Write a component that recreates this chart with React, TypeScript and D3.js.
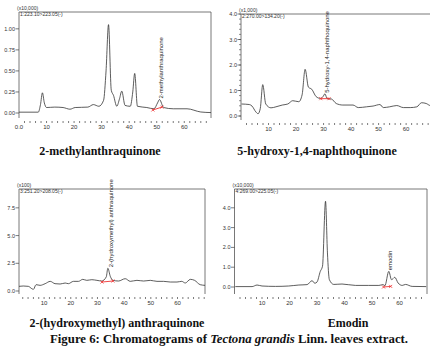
import * as d3 from 'd3'

type Pt = [number, number]

// retention time (min), signal in the panel's own units
const traceMethyl: Pt[] = [
  [0, 0.01], [7, 0.01], [7.8, 0.1], [8.5, 0.24], [9.2, 0.12], [10, 0.065], [13, 0.07], [16, 0.065],
  [18.5, 0.045], [20.4, 0.065], [25, 0.07], [27, 0.1], [29, 0.08], [30.7, 0.15], [31.6, 0.5], [32.5, 1.05],
  [33.5, 0.27], [34.3, 0.21], [35.5, 0.08], [36.5, 0.17], [37.3, 0.26], [38.5, 0.09], [40.4, 0.08],
  [41.3, 0.25], [42, 0.47], [43, 0.08], [46.4, 0.065], [49, 0.05], [50.3, 0.12], [51, 0.16], [52.5, 0.065],
  [56, 0.05], [61, 0.05], [66, 0.012], [69.7, 0.005]
]
const traceHydroxy: Pt[] = [
  [0.2, 0.47], [3, 0.45], [4, 0.39], [5.4, 0.16], [6.2, 0.09], [7, 0.29], [7.9, 1.23], [9, 0.47],
  [10.9, 0.32], [12.7, 0.36], [15, 0.43], [17, 0.47], [18.8, 0.6], [21, 0.56], [22.2, 0.83], [23.3, 1.83],
  [24.5, 1.13], [25.7, 1.05], [27.3, 0.76], [28.8, 0.69], [29.8, 0.76], [30.5, 0.87], [31.3, 0.68],
  [32.8, 0.67], [34.6, 0.49], [37, 0.43], [40.7, 0.43], [42.6, 0.33], [45.6, 0.36], [48, 0.39], [50.5, 0.45],
  [51.7, 0.33], [54, 0.36], [56.6, 0.41], [59, 0.33], [61.5, 0.33], [63.9, 0.36], [65.6, 0.52], [67.3, 0.49],
  [68.8, 0.41], [69.4, 0.42]
]
const traceHydroxymethyl: Pt[] = [
  [0.6, 0.42], [2.2, 0.45], [4.1, 0.42], [5.4, 0.21], [6, 0.15], [7, 0.57], [8.5, 0.51], [10.4, 0.66],
  [12.3, 0.87], [14.1, 0.66], [16, 0.63], [17.9, 0.72], [19.1, 0.66], [21, 0.87], [22.9, 0.87], [24.5, 1.05],
  [26, 0.96], [27.9, 1.02], [29.8, 0.96], [31.6, 0.9], [33.3, 1.27], [33.9, 2.05], [34.8, 1.33], [35.8, 0.96],
  [37.9, 0.9], [40.4, 1.11], [42.3, 0.87], [44.8, 0.96], [47.3, 0.9], [49.8, 0.96], [52.3, 0.87], [54.8, 0.87],
  [57.3, 0.81], [59.8, 0.81], [61.6, 0.87], [62.9, 0.72], [64.8, 1.05], [66.4, 0.96], [68.5, 0.57], [70.3, 0.51]
]
const traceEmodin: Pt[] = [
  [0.3, 0.02], [6.4, 0.02], [8.2, 0.1], [10, 0.05], [14.9, 0.03], [19.7, 0.05], [23.4, 0.1], [26.4, 0.12],
  [28.2, 0.32], [29.2, 0.19], [30, 0.25], [31.2, 0.79], [32, 1.05], [33.1, 4.33], [33.8, 1.72], [34.5, 0.37],
  [36.1, 0.13], [39.1, 0.15], [44, 0.08], [48.8, 0.08], [52.5, 0.08], [54, 0.12], [54.7, 0.07], [56.1, 0.79],
  [57.1, 0.37], [58.3, 0.49], [59.5, 0.2], [61, 0.08], [62.2, 0.13], [64.6, 0.03], [69.7, 0.02]
]

// integration baselines (start, end)
const baseMethyl: Pt[] = [[48.6, 0.036], [51.9, 0.07]]
const baseHydroxy: Pt[] = [[29.0, 0.68], [32.0, 0.68]]
const baseHydroxymethyl: Pt[] = [[31.7, 0.81], [35.8, 0.9]]
const baseEmodin: Pt[] = [[54.2, 0.0], [56.8, 0.03]]

// peak labels: [time, height]
const peakMethyl: Pt = [51, 0.16]
const peakHydroxy: Pt = [30.7, 0.87]
const peakHydroxymethyl: Pt = [34.6, 2.05]
const peakEmodin: Pt = [56.1, 0.79]

const yTicksMethyl = [0, 0.25, 0.5, 0.75, 1.0]
const yTicksHydroxy = [0, 1, 2, 3, 4]
const yTicksHydroxymethyl = [0, 2.5, 5, 7.5]
const yTicksEmodin = [0, 1, 2, 3, 4]
const xLabels = [10, 20, 30, 40, 50, 60]

const compounds = ['2-methylanthraquinone', '5-hydroxy-1,4-naphthoquinone', '2-(hydroxymethyl) anthraquinone', 'Emodin']
const peakNames = ['2-methylanthraquinone', '5-hydroxy-1,4-naphthoquinone', '2-(hydroxymethyl) anthraquinone', 'emodin']
const multipliers = ['(x10,000)', '(x1,000)', '(x100)', '(x10,000)']
const channels = ['1:223.10>223.05(-)', '2:270.00>134.20(-)', '3:251.20>208.05(-)', '4:269.00>225.05(-)']

interface Panel {
  trace: Pt[]; base: Pt[]; peak: Pt; peakName: string
  yTicks: number[]; yFmt: (v: number) => string; yMinor?: number
  xDomain: [number, number]; yDomain: [number, number]
  left: number; right: number; top: number; zeroY: number; axisY: number
  mult: string; channel: string; zeroLabel?: boolean
  caption: string; capX: number; capY: number
}

const panels: Panel[] = [
  {
    trace: traceMethyl, base: baseMethyl, peak: peakMethyl, peakName: peakNames[0],
    yTicks: yTicksMethyl, yFmt: d3.format('.2f'),
    xDomain: [0, 69.7], yDomain: [0, 1.2],
    left: 19, right: 211, top: 12, zeroY: 113, axisY: 118,
    mult: multipliers[0], channel: channels[0], zeroLabel: true,
    caption: compounds[0], capX: 100, capY: 155
  },
  {
    trace: traceHydroxy, base: baseHydroxy, peak: peakHydroxy, peakName: peakNames[1],
    yTicks: yTicksHydroxy, yFmt: d3.format('.1f'), yMinor: 0.2,
    xDomain: [0, 69.4], yDomain: [0, 4.0],
    left: 241, right: 432, top: 14, zeroY: 116, axisY: 120,
    mult: multipliers[1], channel: channels[1],
    caption: compounds[1], capX: 317, capY: 155
  },
  {
    trace: traceHydroxymethyl, base: baseHydroxymethyl, peak: peakHydroxymethyl, peakName: peakNames[2],
    yTicks: yTicksHydroxymethyl, yFmt: d3.format('.1f'),
    xDomain: [0.6, 70.3], yDomain: [0, 9.2],
    left: 19, right: 205, top: 189, zeroY: 291, axisY: 294,
    mult: multipliers[2], channel: channels[2],
    caption: compounds[2], capX: 117, capY: 327
  },
  {
    trace: traceEmodin, base: baseEmodin, peak: peakEmodin, peakName: peakNames[3],
    yTicks: yTicksEmodin, yFmt: d3.format('.1f'),
    xDomain: [0, 70], yDomain: [0, 4.95],
    left: 234.5, right: 427, top: 189, zeroY: 287, axisY: 294,
    mult: multipliers[3], channel: channels[3],
    caption: compounds[3], capX: 348, capY: 327
  }
]

const axisColor = '#555'
const sans = 'Liberation Sans, Arial, sans-serif'
const serif = 'Liberation Serif, Times New Roman, serif'

function Chromatogram({ p }: { p: Panel }) {
  const x = d3.scaleLinear().domain(p.xDomain).range([p.left, p.right])
  const y = d3.scaleLinear().domain(p.yDomain).range([p.zeroY, p.top])
  const line = d3.line<Pt>().x(d => x(d[0])).y(d => y(d[1])).curve(d3.curveMonotoneX)
  const minorX = d3.range(2, p.xDomain[1], 2)
  const minorY = p.yMinor ? d3.range(0, p.yDomain[1] + 1e-6, p.yMinor) : []
  const px = x(p.peak[0]) + 1.5
  const py = y(p.peak[1]) - 1

  return (
    <g>
      {/* frame */}
      <path d={`M${p.left},${p.axisY}V${p.top}H${p.right}V${p.axisY}`} fill="none" stroke={axisColor} strokeWidth={0.8} />
      {/* x ticks */}
      {minorX.map(t => (
        <line key={'x' + t} x1={x(t)} x2={x(t)} y1={p.axisY + 3} y2={p.axisY + 5} stroke="#444" strokeWidth={0.7} />
      ))}
      {(p.zeroLabel ? [0, ...xLabels] : xLabels).map(t => (
        <text key={'xl' + t} x={x(t)} y={p.axisY + 11} fontSize={6} fontFamily={sans} fill="#333" textAnchor="middle">
          {t === 0 ? '0.0' : t}
        </text>
      ))}
      {/* y ticks */}
      {minorY.map(v => (
        <line key={'ym' + v} x1={p.left - 2} x2={p.left} y1={y(v)} y2={y(v)} stroke="#444" strokeWidth={0.6} />
      ))}
      {p.yTicks.map(v => (
        <g key={'y' + v}>
          <line x1={p.left - 3.5} x2={p.left} y1={y(v)} y2={y(v)} stroke="#444" strokeWidth={0.7} />
          <text x={p.left - 4} y={y(v) + 2} fontSize={5.5} fontFamily={sans} fill="#333" textAnchor="end">{p.yFmt(v)}</text>
        </g>
      ))}
      {/* header */}
      <text x={p.left - 2} y={p.top - 2} fontSize={5} fontFamily={sans} fill="#333">{p.mult}</text>
      <text x={p.left + 1} y={p.top + 4} fontSize={5} fontFamily={sans} fill="#333">{p.channel}</text>
      {/* trace */}
      <path d={line(p.trace) ?? ''} fill="none" stroke="#333" strokeWidth={0.8} />
      {/* integration baseline */}
      <line x1={x(p.base[0][0])} y1={y(p.base[0][1])} x2={x(p.base[1][0])} y2={y(p.base[1][1])} stroke="#e33" strokeWidth={0.9} />
      {p.base.map((b, i) => (
        <path key={'b' + i} d={`M${x(b[0]) - 1.5},${y(b[1]) - 1.5}l3,3M${x(b[0]) - 1.5},${y(b[1]) + 1.5}l3,-3`} stroke="#e33" strokeWidth={0.8} />
      ))}
      {/* peak label */}
      <text transform={`translate(${px},${py}) rotate(-90)`} fontSize={6} fontFamily={sans} fill="#222" dominantBaseline="middle">
        {p.peakName}
      </text>
      {/* caption */}
      <text x={p.capX} y={p.capY} fontSize={12} fontWeight="bold" fontFamily={serif} textAnchor="middle" fill="#111">
        {p.caption}
      </text>
    </g>
  )
}

export default function App() {
  return (
    <svg width={430} height={346} style={{ position: 'absolute', left: 0, top: 0, background: '#fff' }}>
      {panels.map((p, i) => <Chromatogram key={i} p={p} />)}
      <text x={50} y={343.3} fontSize={12.8} fontWeight="bold" fontFamily={serif} fill="#111">
        Figure 6: Chromatograms of <tspan fontStyle="italic">Tectona grandis</tspan> Linn. leaves extract.
      </text>
    </svg>
  )
}
